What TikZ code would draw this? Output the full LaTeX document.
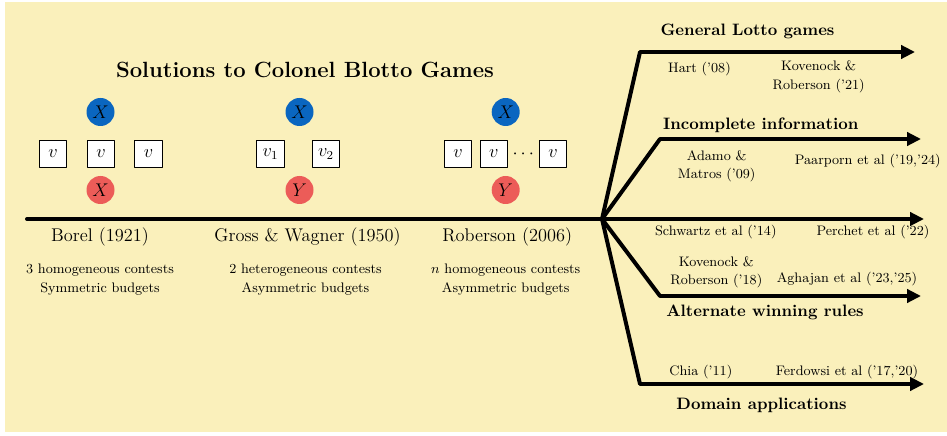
\documentclass[tikz,border=0pt]{standalone}
\usetikzlibrary{arrows.meta,positioning}
\definecolor{sheet}{RGB}{250,240,187}
\definecolor{teamX}{RGB}{10,102,192}
\definecolor{teamY}{RGB}{236,92,88}
\begin{document}
\begin{tikzpicture}[x=0.6536pt, y=-0.6536pt, line join=round, line cap=round,
		>={Triangle[length=9pt,width=8.5pt]},
		axis/.style={line width=2.6pt},
		field/.style={draw, fill=white, line width=0.6pt, minimum size=17.9pt, inner sep=0pt, font=\large},
		player/.style={circle, minimum size=18.3pt, inner sep=0pt, font=\large},
		work/.style={font=\large},
		note/.style={font=\small, align=center},
		topic/.style={font=\fontsize{10.8pt}{13pt}\selectfont\bfseries}]
	\useasboundingbox (0,0) rectangle (947,436);
	\fill[sheet] (5,2) rectangle (947,432);
	\path
	(27,219) coordinate (start)
	(602,219) coordinate (hub)
	(640,52) coordinate (lotto) (915,52) coordinate (lotto-end)
	(660,139) coordinate (info) (921,139) coordinate (info-end)
	(924,219) coordinate (online-end)
	(660,296) coordinate (rules) (921,296) coordinate (rules-end)
	(640,384) coordinate (apps) (924,384) coordinate (apps-end)
	;
	\node[font=\Large\bfseries] (title) at (305,70) {Solutions to Colonel Blotto Games};
	% Borel
	\node[player, fill=teamX] (borel-X) at (100.5,112) {$X$};
	\node[field] (borel-v1) at (53,154) {$v$};
	\node[field] (borel-v2) at (101,154) {$v$};
	\node[field] (borel-v3) at (148.5,154) {$v$};
	\node[player, fill=teamY] (borel-Y) at (100.5,190) {$X$};
	\node[work] (borel) at (100,237) {Borel (1921)};
	\node[note] (borel-note) at (100,279.5) {3 homogeneous contests\\[1pt] Symmetric budgets};
	% Gross & Wagner
	\node[player, fill=teamX] (gw-X) at (299.5,112) {$X$};
	\node[field] (gw-v1) at (270.5,154) {$v_1$};
	\node[field] (gw-v2) at (326,154) {$v_2$};
	\node[player, fill=teamY] (gw-Y) at (299.5,190) {$Y$};
	\node[work] (gw) at (307.5,237) {Gross \& Wagner (1950)};
	\node[note] (gw-note) at (305.5,279.5) {2 heterogeneous contests\\[1pt] Asymmetric budgets};
	% Roberson
	\node[player, fill=teamX] (rob-X) at (505.7,112) {$X$};
	\node[field] (rob-v1) at (458,154) {$v$};
	\node[field] (rob-v2) at (493.7,154) {$v$};
	\node[font=\large] (rob-dots) at (523.3,154) {$\cdots$};
	\node[field] (rob-vn) at (553,154) {$v$};
	\node[player, fill=teamY] (rob-Y) at (505.7,190) {$Y$};
	\node[work] (rob) at (507.3,237) {Roberson (2006)};
	\node[note] (rob-note) at (505.7,279.5) {$n$ homogeneous contests\\[1pt] Asymmetric budgets};
	% timeline and branches
	\draw[axis] (start)--(hub);
	\draw[axis,->] (hub)--(lotto)--(lotto-end);
	\draw[axis,->] (hub)--(info)--(info-end);
	\draw[axis,->] (hub)--(online-end);
	\draw[axis,->] (hub)--(rules)--(rules-end);
	\draw[axis,->] (hub)--(apps)--(apps-end);
	% General Lotto
	\node[topic] (lotto-t) at (747.5,31) {General Lotto games};
	\node[note] (hart) at (699.5,69) {Hart ('08)};
	\node[note] (kr21) at (818.7,76.7) {Kovenock \&\\[1pt] Roberson ('21)};
	% incomplete information
	\node[topic] (info-t) at (760.8,125) {Incomplete information};
	\node[note] (am) at (716.7,166) {Adamo \&\\[1pt] Matros ('09)};
	\node[note] (paar) at (867.8,161) {Paarporn et al ('19,'24)};
	% straight branch
	\node[note] (schw) at (715.8,231.7) {Schwartz et al ('14)};
	\node[note] (perch) at (873,231.7) {Perchet et al ('22)};
	% alternate winning rules
	\node[note] (kr18) at (716.3,272) {Kovenock \&\\[1pt] Roberson ('18)};
	\node[note] (agh) at (847,279) {Aghajan et al ('23,'25)};
	\node[topic] (rules-t) at (765,312.3) {Alternate winning rules};
	% domain applications
	\node[note] (chia) at (700.8,372.3) {Chia ('11)};
	\node[note] (ferd) at (847,372.3) {Ferdowsi et al ('17,'20)};
	\node[topic] (apps-t) at (761.5,405) {Domain applications};
\end{tikzpicture}
\end{document}
